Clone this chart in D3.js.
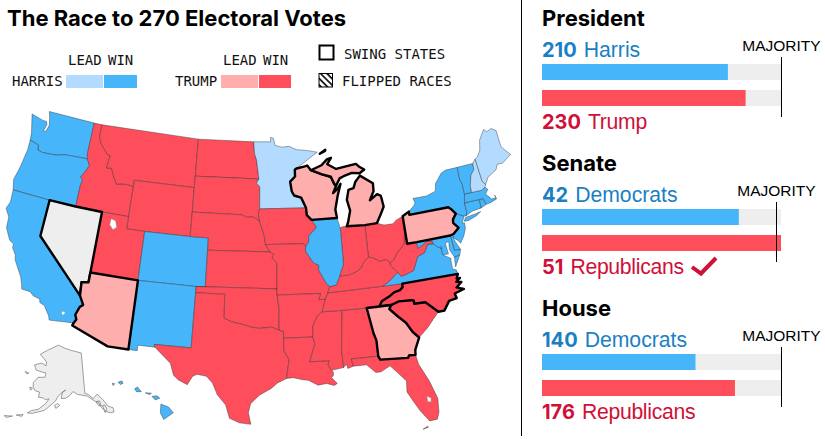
<!DOCTYPE html>
<html>
<head>
<meta charset="utf-8">
<style>
    body{ margin: 0; background: white; }
    svg{ display: block; }
    .mono{ font-family: "DejaVu Sans Mono", monospace; font-size: 14px; fill: #111; }
    .head{ font-family: Inter, sans-serif; font-weight: 700; fill: #000; }
    .label{ font-family: "Liberation Sans", sans-serif; font-size: 21.2px; }
    .num{ font-family: Inter, sans-serif; font-weight: 700; font-size: 20px; }
</style>
<script src="https://d3js.org/d3.v7.min.js"></script>
</head>
<body>
<svg id="chart" width="825" height="439"></svg>
<script>
var harrisWin = ["WA","OR","CA","CO","NM","IL","NY","VT","MA","CT","RI","NJ","DE","MD","DC","VA","HI"];
var harrisLead = ["MN","ME","NH"];
var trumpWin = ["ID","MT","WY","UT","ND","SD","NE","KS","OK","TX","IA","MO","AR","LA","MS","AL","TN","KY","IN","OH","WV","SC","FL","NC"];
var trumpLead = ["AZ","WI","MI","PA","GA"];
var swingStates = ["NV","AZ","WI","MI","PA","NC","GA"];

var chambers = ["President","Senate","House"];
var demNames = ["Harris","Democrats","Democrats"];
var repNames = ["Trump","Republicans","Republicans"];
var demSeats = [210,42,140];
var repSeats = [230,51,176];
var majority = [270,50,218];
var trackMax = [270,51,218];

// state outlines, rings of [lon, lat]
var outlines = {
  WA:[[[-124.7,48.4],[-124.1,46.9],[-124,46.3],[-123.4,46.2],[-122.9,46.1],[-122.8,45.7],[-122.2,45.6],[-121.2,45.65],[-120.5,45.7],[-119.6,45.9],[-119,45.93],[-116.92,46],[-117.04,46.42],[-117.04,49],[-122.76,49],[-122.5,48.5],[-122.3,47.9],[-122.5,47.35],[-122.8,47.3],[-122.6,47.9],[-122.75,48.15],[-123.2,48.15]]],
  OR:[[[-124,46.3],[-123.95,45.5],[-124.1,44.6],[-124.2,43.9],[-124.5,42.85],[-124.2,42],[-120,42],[-117.03,42],[-117.03,43.8],[-116.9,44.2],[-117.2,44.45],[-116.85,44.9],[-116.5,45.5],[-116.92,46],[-119,45.93],[-119.6,45.9],[-120.5,45.7],[-121.2,45.65],[-122.2,45.6],[-122.8,45.7],[-122.9,46.1],[-123.4,46.2]]],
  CA:[[[-124.2,42],[-120,42],[-120,39],[-114.63,35],[-114.14,34.3],[-114.43,34.1],[-114.72,33.4],[-114.52,33.03],[-114.72,32.72],[-117.12,32.53],[-117.25,32.85],[-117.9,33.6],[-118.4,33.75],[-118.5,34.03],[-119.2,34.15],[-119.6,34.42],[-120.47,34.45],[-120.65,34.9],[-120.9,35.4],[-121.9,36.6],[-122,36.96],[-122.5,37.5],[-122.5,37.8],[-123,38],[-123.7,38.9],[-123.8,39.8],[-124.35,40.4],[-124.1,41]]],
  NV:[[[-120,42],[-117.03,42],[-114.04,42],[-114.04,36.2],[-114.74,36.1],[-114.63,35],[-120,39]]],
  ID:[[[-117.04,49],[-116.05,49],[-116.05,48],[-115.7,47.45],[-114.7,46.7],[-114.35,46.65],[-114.5,45.6],[-113.9,45.65],[-113.45,44.95],[-113,44.45],[-112.3,44.55],[-111.5,44.55],[-111.05,44.48],[-111.05,42],[-114.04,42],[-117.03,42],[-117.03,43.8],[-116.9,44.2],[-117.2,44.45],[-116.85,44.9],[-116.5,45.5],[-116.92,46],[-117.04,46.42]]],
  MT:[[[-116.05,49],[-104.05,49],[-104.05,45.94],[-104.05,45],[-111.05,45],[-111.05,44.48],[-111.5,44.55],[-112.3,44.55],[-113,44.45],[-113.45,44.95],[-113.9,45.65],[-114.5,45.6],[-114.35,46.65],[-114.7,46.7],[-115.7,47.45],[-116.05,48]]],
  WY:[[[-111.05,45],[-104.05,45],[-104.05,43],[-104.05,41],[-109.05,41],[-111.05,41],[-111.05,42]]],
  UT:[[[-114.04,42],[-111.05,42],[-111.05,41],[-109.05,41],[-109.05,37],[-114.04,37]]],
  CO:[[[-109.05,41],[-104.05,41],[-102.05,41],[-102.05,40],[-102.05,37],[-103,37],[-109.05,37]]],
  AZ:[[[-114.04,37],[-109.05,37],[-109.05,31.33],[-111.07,31.33],[-114.8,32.5],[-114.72,32.72],[-114.52,33.03],[-114.72,33.4],[-114.43,34.1],[-114.14,34.3],[-114.63,35],[-114.74,36.1],[-114.04,36.2]]],
  NM:[[[-109.05,37],[-103,37],[-103,36.5],[-103.04,32],[-106.62,32],[-106.53,31.78],[-108.2,31.78],[-108.2,31.33],[-109.05,31.33]]],
  ND:[[[-104.05,49],[-97.23,49],[-97.1,48],[-96.85,47.5],[-96.56,45.94],[-104.05,45.94]]],
  SD:[[[-104.05,45.94],[-96.56,45.94],[-96.85,45.6],[-96.45,45.3],[-96.45,43.5],[-96.6,43.1],[-96.45,42.5],[-97.2,42.85],[-97.9,42.8],[-98.5,43],[-104.05,43]]],
  NE:[[[-104.05,43],[-98.5,43],[-97.9,42.8],[-97.2,42.85],[-96.45,42.5],[-96.1,41.7],[-95.9,41.2],[-95.8,40.6],[-95.3,40],[-102.05,40],[-102.05,41],[-104.05,41]]],
  KS:[[[-102.05,40],[-95.3,40],[-94.9,39.8],[-95.1,39.5],[-94.6,39.1],[-94.62,37],[-103,37],[-102.05,37]]],
  OK:[[[-103,37],[-94.62,37],[-94.62,36.5],[-94.43,35.4],[-94.48,33.64],[-95.2,33.9],[-96.5,33.8],[-97.2,33.9],[-98.1,34.1],[-99.2,34.3],[-100,34.56],[-100,36.5],[-103,36.5]]],
  TX:[[[-106.62,32],[-103.04,32],[-103,36.5],[-100,36.5],[-100,34.56],[-99.2,34.3],[-98.1,34.1],[-97.2,33.9],[-96.5,33.8],[-95.2,33.9],[-94.48,33.64],[-94.04,33.55],[-94.04,33],[-94.04,32],[-93.55,31.2],[-93.7,30.5],[-93.84,29.7],[-94.7,29.35],[-95.3,28.9],[-96.4,28.35],[-97.2,27.65],[-97.4,26.9],[-97.15,25.95],[-98.2,26.05],[-99.1,26.4],[-99.5,27.5],[-100.3,28.3],[-100.8,29.25],[-101.4,29.77],[-102.3,29.88],[-102.7,29.7],[-103.15,28.98],[-104,29.3],[-104.5,29.65],[-104.9,30.6],[-106,31.4],[-106.53,31.78]]],
  MN:[[[-97.23,49],[-95.15,49],[-95.15,49.38],[-94.8,49.3],[-94.6,48.7],[-93.8,48.55],[-92.9,48.6],[-92,48.3],[-90.8,48.2],[-89.5,48],[-92.1,46.75],[-92.3,46.65],[-92.3,46.1],[-92.9,45.7],[-92.75,44.9],[-92.5,44.55],[-91.7,44.35],[-91.2,43.5],[-96.45,43.5],[-96.45,45.3],[-96.85,45.6],[-96.56,45.94],[-96.85,47.5],[-97.1,48]]],
  IA:[[[-96.45,43.5],[-91.2,43.5],[-91.15,42.9],[-90.65,42.5],[-90.15,41.9],[-90.3,41.75],[-91.05,41.2],[-91.1,40.7],[-91.42,40.38],[-91.7,40.6],[-95.8,40.6],[-95.9,41.2],[-96.1,41.7],[-96.45,42.5],[-96.6,43.1]]],
  MO:[[[-95.8,40.6],[-91.7,40.6],[-91.42,40.38],[-91.5,40],[-90.7,39],[-90.15,38.8],[-90.2,38.4],[-89.5,37.3],[-89.15,37],[-89.4,36.5],[-89.7,36],[-90.37,36],[-90.15,36.5],[-94.62,36.5],[-94.62,37],[-94.6,39.1],[-95.1,39.5],[-94.9,39.8],[-95.3,40]]],
  AR:[[[-94.62,36.5],[-90.15,36.5],[-90.37,36],[-89.7,36],[-90.1,35],[-90.6,34.7],[-91.1,33.9],[-91.17,33],[-94.04,33],[-94.04,33.55],[-94.48,33.64],[-94.43,35.4]]],
  LA:[[[-94.04,33],[-91.17,33],[-91,32.4],[-91.6,31],[-89.73,31],[-89.85,30.65],[-89.55,30.2],[-89.4,30.05],[-89.4,29.8],[-89.6,29.6],[-89.1,29.1],[-89.4,28.95],[-90.1,29.15],[-90.9,29.05],[-91.8,29.5],[-92.3,29.55],[-93.2,29.75],[-93.84,29.7],[-93.7,30.5],[-93.55,31.2],[-94.04,32]]],
  MS:[[[-90.1,35],[-88.2,35],[-88.1,34.9],[-88.45,31.9],[-88.4,30.35],[-89.55,30.2],[-89.85,30.65],[-89.73,31],[-91.6,31],[-91,32.4],[-91.17,33],[-91.1,33.9],[-90.6,34.7]]],
  AL:[[[-88.2,35],[-85.6,35],[-85.2,32.9],[-85,32.3],[-85,31],[-87.6,31],[-87.45,30.4],[-88,30.25],[-88.1,30.6],[-88.4,30.35],[-88.45,31.9],[-88.1,34.9]]],
  TN:[[[-90.1,35],[-89.7,36],[-89.4,36.5],[-83.68,36.6],[-81.68,36.59],[-81.7,36.3],[-82,36.1],[-82.6,36],[-83.2,35.7],[-84,35.4],[-84.3,35],[-85.6,35],[-88.2,35]]],
  KY:[[[-89.4,36.5],[-83.68,36.6],[-82.9,36.95],[-81.97,37.54],[-82.6,38.15],[-82.6,38.42],[-83,38.72],[-83.7,38.65],[-84.3,38.98],[-84.82,39.1],[-85.4,38.7],[-85.75,38.27],[-86.3,38],[-87.1,37.8],[-88.05,37.8],[-88.45,37.1],[-89.15,37]]],
  VA:[[[-83.68,36.6],[-81.68,36.59],[-75.87,36.55],[-75.95,36.9],[-76.3,37],[-76.3,37.6],[-76.25,37.9],[-77,38.3],[-77.04,38.85],[-77.5,39.1],[-77.72,39.32],[-78.35,39.4],[-78.87,38.76],[-79.65,38.55],[-80.3,37.5],[-81.25,37.25],[-81.68,37.2],[-81.97,37.54],[-82.9,36.95]],[[-75.25,38.03],[-75.85,37.95],[-75.95,37.15]]],
  WV:[[[-82.6,38.42],[-82.6,38.15],[-81.97,37.54],[-81.68,37.2],[-81.25,37.25],[-80.3,37.5],[-79.65,38.55],[-78.87,38.76],[-78.35,39.4],[-77.72,39.32],[-77.83,39.6],[-78.4,39.62],[-79.48,39.2],[-79.48,39.72],[-80.52,39.72],[-80.52,40.64],[-80.65,40.55],[-80.85,39.75],[-81.75,39.1],[-82.2,38.6]]],
  OH:[[[-84.82,39.1],[-84.3,38.98],[-83.7,38.65],[-83,38.72],[-82.6,38.42],[-82.2,38.6],[-81.75,39.1],[-80.85,39.75],[-80.65,40.55],[-80.52,40.64],[-80.52,41.98],[-81.3,41.75],[-81.7,41.5],[-82.7,41.5],[-83.45,41.73],[-84.8,41.7]]],
  IN:[[[-87.53,41.7],[-87.2,41.76],[-86.8,41.76],[-84.8,41.7],[-84.82,39.1],[-85.4,38.7],[-85.75,38.27],[-86.3,38],[-87.1,37.8],[-88.05,37.8],[-87.55,38.7],[-87.53,39.35]]],
  IL:[[[-87.53,41.7],[-87.53,39.35],[-87.55,38.7],[-88.05,37.8],[-88.45,37.1],[-89.15,37],[-89.5,37.3],[-90.2,38.4],[-90.15,38.8],[-90.7,39],[-91.5,40],[-91.42,40.38],[-91.1,40.7],[-91.05,41.2],[-90.3,41.75],[-90.15,41.9],[-90.65,42.5],[-87.8,42.5],[-87.6,41.9]]],
  WI:[[[-90.65,42.5],[-91.15,42.9],[-91.2,43.5],[-91.7,44.35],[-92.5,44.55],[-92.75,44.9],[-92.9,45.7],[-92.3,46.1],[-92.3,46.65],[-92.1,46.75],[-91.2,46.87],[-90.8,46.95],[-90.4,46.55],[-89.1,46.15],[-88.1,45.9],[-87.8,45.35],[-87.6,45.1],[-88,44.55],[-87.4,44.9],[-87.05,45.25],[-87.5,44.3],[-87.9,43.2],[-87.8,42.5]]],
  MI:[[[-86.8,41.76],[-84.8,41.7],[-83.45,41.73],[-83.15,42.1],[-82.9,42.4],[-82.45,43],[-82.6,43.9],[-83,44.07],[-83.9,43.65],[-83.35,44.35],[-83.3,45],[-84.7,45.75],[-85.3,45.3],[-85.6,44.8],[-86.2,44.7],[-86.5,43.9],[-86.25,43],[-86.6,42.1]],[[-90.4,46.55],[-89.1,46.9],[-88.4,47.35],[-87.9,47.45],[-88.4,46.95],[-87.4,46.5],[-86.1,46.65],[-85,46.75],[-84.6,46.45],[-84.1,46.2],[-84.7,45.95],[-85.6,46.05],[-86.6,45.85],[-87.1,45.7],[-87.6,45.1],[-87.8,45.35],[-88.1,45.9],[-89.1,46.15]],[[-89.2,47.85],[-88.5,48.15],[-88.55,48.05]]],
  PA:[[[-80.52,41.98],[-79.76,42.27],[-79.76,42],[-75.35,42],[-75.05,41.75],[-74.7,41.36],[-75.15,40.95],[-75.2,40.65],[-74.75,40.2],[-75.4,39.8],[-75.8,39.72],[-79.48,39.72],[-80.52,39.72],[-80.52,40.64]]],
  NY:[[[-79.76,42.27],[-79.05,42.7],[-78.9,42.9],[-79.05,43.27],[-77.5,43.25],[-76.4,43.5],[-76.2,44.1],[-75.3,44.85],[-74.7,45],[-73.35,45],[-73.4,44],[-73.25,43.6],[-73.27,42.75],[-73.5,42.05],[-73.5,41.3],[-73.65,41],[-73.9,41],[-74.7,41.36],[-75.05,41.75],[-75.35,42],[-79.76,42]],[[-74,40.6],[-73.75,40.88],[-72.6,40.97],[-72,41.05],[-72.5,40.82],[-73.5,40.58]]],
  NJ:[[[-73.9,41],[-74.7,41.36],[-75.15,40.95],[-75.2,40.65],[-74.75,40.2],[-75.4,39.8],[-75.55,39.5],[-75.1,39.2],[-74.9,38.93],[-74.4,39.45],[-74.05,40],[-74,40.45],[-74.25,40.5]]],
  DE:[[[-75.4,39.8],[-75.8,39.72],[-75.7,38.46],[-75.05,38.45],[-75.4,39.1],[-75.55,39.5]]],
  MD:[[[-79.48,39.72],[-75.8,39.72],[-75.7,38.46],[-75.05,38.45],[-75.25,38.03],[-75.85,37.95],[-76.2,38.6],[-76.1,39.3],[-76.5,39.2],[-76.4,38.3],[-77,38.3],[-77.04,38.85],[-77.5,39.1],[-77.72,39.32],[-77.83,39.6],[-78.4,39.62],[-79.48,39.2]]],
  DC:[[[-77.12,38.93],[-77.04,39],[-76.91,38.89],[-77.04,38.79]]],
  CT:[[[-73.5,42.05],[-71.8,42.02],[-71.85,41.32],[-72.9,41.25],[-73.65,41],[-73.5,41.3]]],
  RI:[[[-71.8,42.02],[-71.38,42.02],[-71.2,41.5],[-71.85,41.32]]],
  MA:[[[-73.27,42.75],[-72.46,42.73],[-71.3,42.7],[-70.85,42.87],[-70.6,42.65],[-71,42.3],[-70.6,41.95],[-70.5,41.8],[-70,41.8],[-70.05,42.05],[-69.95,41.7],[-70.65,41.55],[-71.2,41.5],[-71.38,42.02],[-71.8,42.02],[-73.5,42.05]]],
  VT:[[[-73.35,45],[-71.5,45],[-71.55,44.5],[-72.05,44.1],[-72.4,43.3],[-72.46,42.73],[-73.27,42.75],[-73.25,43.6],[-73.4,44]]],
  NH:[[[-71.5,45],[-71.1,45.3],[-70.98,43.4],[-70.7,43.07],[-70.85,42.87],[-71.3,42.7],[-72.46,42.73],[-72.4,43.3],[-72.05,44.1],[-71.55,44.5]]],
  ME:[[[-71.1,45.3],[-70.8,45.4],[-70.3,45.9],[-70,46.7],[-69.2,47.45],[-68.9,47.2],[-68.3,47.35],[-67.8,47.07],[-67.8,45.7],[-67.45,45.3],[-67,44.85],[-68.2,44.35],[-68.8,44.4],[-69.1,44],[-70.2,43.6],[-70.7,43.07],[-70.98,43.4]]],
  NC:[[[-84.3,35],[-84,35.4],[-83.2,35.7],[-82.6,36],[-82,36.1],[-81.7,36.3],[-81.68,36.59],[-75.87,36.55],[-76.1,36.2],[-75.75,36.2],[-76.2,35.95],[-75.7,35.85],[-76.3,35.5],[-75.6,35.25],[-76.6,35.05],[-76.5,34.65],[-77.3,34.55],[-77.95,33.85],[-78.55,33.85],[-79.67,34.8],[-80.8,34.82],[-80.8,35.1],[-81.05,35.15],[-82.3,35.2],[-83.1,35]]],
  SC:[[[-83.1,35],[-82.3,35.2],[-81.05,35.15],[-80.8,35.1],[-80.8,34.82],[-79.67,34.8],[-78.55,33.85],[-79.1,33.4],[-79.9,32.7],[-80.85,32.05],[-81.4,32.6],[-81.9,33.4],[-82.6,34],[-83.35,34.7]]],
  GA:[[[-85.6,35],[-84.3,35],[-83.1,35],[-83.35,34.7],[-82.6,34],[-81.9,33.4],[-81.4,32.6],[-80.85,32.05],[-81.4,31.1],[-81.45,30.7],[-82.05,30.75],[-82.2,30.55],[-84.85,30.7],[-85,31],[-85,32.3],[-85.2,32.9]]],
  FL:[[[-87.6,31],[-85,31],[-84.85,30.7],[-82.2,30.55],[-82.05,30.75],[-81.45,30.7],[-81.3,29.9],[-80.55,28.4],[-80.05,26.9],[-80.15,25.75],[-80.4,25.2],[-81.1,25.15],[-81.8,26.1],[-82.2,26.8],[-82.75,27.8],[-82.65,28.7],[-83.4,29.5],[-84,30.1],[-84.9,29.7],[-85.4,29.7],[-86.2,30.4],[-87.45,30.4]],[[-81.8,24.55],[-81.3,24.65],[-81.35,24.75]]]
};
var hawaii = [[[-155.9,20.25],[-155.2,19.98],[-154.8,19.5],[-155.65,18.95],[-155.95,19.5]],[[-156.7,20.9],[-156.25,20.95],[-156,20.75],[-156.4,20.6]],[[-157.3,21.2],[-156.75,21.17],[-156.9,21.05]],[[-158.25,21.55],[-158,21.7],[-157.65,21.3],[-158.1,21.3]],[[-159.75,22.1],[-159.4,22.2],[-159.3,22],[-159.55,21.9]],[[-160.25,22],[-160.05,21.95],[-160.2,21.8]]];
var alaska = [[[-141,69.65],[-141,60.3],[-139.5,60],[-137.5,58.9],[-135.5,59.8],[-133.5,58.4],[-131.8,56.6],[-130,56],[-130,55],[-131.5,55],[-133,55.5],[-134.5,56.5],[-135.7,58],[-137,58.3],[-139.8,59.6],[-142.5,60],[-144.5,60.2],[-146.5,60.9],[-148,60],[-150,59.3],[-151.9,59.2],[-151.5,60.7],[-150,61.2],[-152.5,60.2],[-153.5,59.5],[-154.2,58.6],[-156.5,57.2],[-158.5,56],[-160.5,55.5],[-163,54.8],[-164.9,54.6],[-163.5,55.4],[-161,56],[-158.5,57.5],[-157.2,58.8],[-158.8,58.5],[-160,58.8],[-162,58.7],[-162,59.9],[-164.2,60],[-165.4,60.6],[-166,61.7],[-165,62.6],[-164.5,63.1],[-161,63.5],[-161,64.5],[-163,64.5],[-166.5,64.6],[-168.1,65.6],[-164.5,66.5],[-161.8,66.1],[-162,67],[-164,67.6],[-166.8,68.35],[-163,69.7],[-160,70.5],[-156.5,71.35],[-152,70.8],[-148,70.4],[-144,70]],[[-154.5,57.5],[-153.3,58],[-152.2,57.6],[-153.8,56.85]],[[-167,60.4],[-165.7,60.4],[-166.2,59.8]],[[-171.7,63.5],[-169.6,63.4],[-170.5,63.1]],[[-168.8,53.4],[-166.3,54],[-166.6,53.5]],[[-173,52.3],[-170,52.9],[-172,52.1]],[[-136.5,58.1],[-135,58.2],[-134.6,57],[-135.6,57.1]],[[-134,57],[-133,57],[-132.6,55.9],[-133.6,55.3]]];
var lakes = [[[-112.9,41.6],[-112.4,41.5],[-112.15,41],[-112.5,40.75],[-112.95,41.1]],[[-81,27.2],[-80.65,27],[-80.7,26.7],[-81,26.75]],[[-116,33.5],[-115.7,33.4],[-115.9,33.15],[-116.1,33.3]]];

var colours = {win:"#47b5fa", lead:"#b3daff", rwin:"#ff4e5b", rlead:"#ffaeae", none:"#eeeeee"};
var demText = "#1a7fc4", repText = "#cf1038";

var getFill = function(st)
{
    if(harrisWin.includes(st)){ return colours.win; }
    if(harrisLead.includes(st)){ return colours.lead; }
    if(trumpWin.includes(st)){ return colours.rwin; }
    if(trumpLead.includes(st)){ return colours.rlead; }
    return colours.none;
}

var mainland = d3.geoConicEqualArea().parallels([29.5,45.5]).rotate([96,0]).center([-0.6,38.7]).scale(700).translate([258,268]);
var akProj = d3.geoConicEqualArea().parallels([55,65]).rotate([147,0]).center([0,58.5]).scale(250).translate([72,402]);
var hiProj = d3.geoConicEqualArea().parallels([8,18]).rotate([157,0]).center([-3,19.9]).scale(680).translate([115,408]);

var svg = d3.select("#chart");
var ringPath = function(proj)
{
    var line = d3.line().x(function(d){ return proj(d)[0]; }).y(function(d){ return proj(d)[1]; }).curve(d3.curveLinearClosed);
    return function(rings){ return rings.map(line).join(""); };
}
var drawLower = ringPath(mainland);
var border = "rgba(45,45,50,0.6)";

var codes = Object.keys(outlines);
var plain = codes.filter(function(c){ return !swingStates.includes(c); });

svg.append("g").selectAll("path").data(plain).enter().append("path")
    .attr("d", function(c){ return drawLower(outlines[c]); })
    .attr("fill", getFill).attr("stroke", border).attr("stroke-width", 0.7).attr("stroke-linejoin", "round");
svg.append("g").selectAll("path").data(lakes).enter().append("path")
    .attr("d", function(r){ return drawLower([r]); })
    .attr("fill", "white").attr("stroke", "#888").attr("stroke-width", 0.4);
svg.append("path").attr("d", ringPath(akProj)(alaska))
    .attr("fill", colours.none).attr("stroke", "#777").attr("stroke-width", 0.7);
svg.append("path").attr("d", ringPath(hiProj)(hawaii))
    .attr("fill", colours.win).attr("stroke", "#445").attr("stroke-width", 0.5);
svg.append("g").selectAll("path").data(swingStates).enter().append("path")
    .attr("d", function(c){ return drawLower(outlines[c]); })
    .attr("fill", getFill).attr("stroke", "#000").attr("stroke-width", 2.4).attr("stroke-linejoin", "round");

// title and legend
svg.append("text").attr("class", "head").attr("x", 7).attr("y", 26).attr("font-size", 22).text("The Race to 270 Electoral Votes");
var addMono = function(x, y, s){ svg.append("text").attr("class", "mono").attr("x", x).attr("y", y).text(s); }
addMono(68,65,"LEAD"); addMono(108,65,"WIN"); addMono(12,86,"HARRIS");
addMono(223,65,"LEAD"); addMono(263,65,"WIN"); addMono(175,86,"TRUMP");
addMono(344,59,"SWING STATES"); addMono(342,86,"FLIPPED RACES");
var swatches = [[66,37,colours.lead],[104,33,colours.win],[221,37,colours.rlead],[259,32,colours.rwin]];
svg.append("g").selectAll("rect").data(swatches).enter().append("rect")
    .attr("x", function(d){ return d[0]; }).attr("y", 75).attr("width", function(d){ return d[1]; }).attr("height", 13).attr("fill", function(d){ return d[2]; });
svg.append("rect").attr("x", 319.5).attr("y", 45.5).attr("width", 14).attr("height", 14).attr("fill", "white").attr("stroke", "#000").attr("stroke-width", 2);
var defs = svg.append("defs");
defs.append("pattern").attr("id", "hatch").attr("width", 4.5).attr("height", 4.5).attr("patternUnits", "userSpaceOnUse").attr("patternTransform", "rotate(45)")
    .append("rect").attr("width", 4.5).attr("height", 1.6).attr("fill", "#000");
svg.append("rect").attr("x", 319).attr("y", 73.5).attr("width", 13.5).attr("height", 13.5).attr("fill", "url(#hatch)").attr("stroke", "#000").attr("stroke-width", 1);

// divider
svg.append("line").attr("x1", 521.5).attr("x2", 521.5).attr("y1", 0).attr("y2", 436).attr("stroke", "#000").attr("stroke-width", 1);

// right hand panels
chambers.forEach(function(name, i)
{
    var top = i*145;
    var x = d3.scaleLinear().domain([0, trackMax[i]]).range([542, 781]);
    var g = svg.append("g").attr("transform", "translate(0," + top + ")");
    g.append("text").attr("class", "head").attr("x", 542).attr("y", 26).attr("font-size", 22).text(name);
    var rows = [{y:64, v:demSeats[i], c:colours.win}, {y:90, v:repSeats[i], c:colours.rwin}];
    g.selectAll(".track").data(rows).enter().append("rect").attr("class", "track")
        .attr("x", x(0)).attr("y", function(d){ return d.y; }).attr("width", x(trackMax[i])-x(0)).attr("height", 16).attr("fill", colours.none);
    g.selectAll(".bar").data(rows).enter().append("rect").attr("class", "bar")
        .attr("x", x(0)).attr("y", function(d){ return d.y; }).attr("width", function(d){ return x(d.v)-x(0); }).attr("height", 16).attr("fill", function(d){ return d.c; });
    var mx = Math.round(x(majority[i]))+0.5;
    g.append("line").attr("x1", mx).attr("x2", mx).attr("y1", 57).attr("y2", 117).attr("stroke", "#000").attr("stroke-width", 1);
    g.append("text").attr("x", mx).attr("y", 51).attr("text-anchor", "middle").attr("font-family", "Liberation Sans").attr("font-size", 15.5).attr("fill", "#000").text("MAJORITY");
    var dem = g.append("text").attr("x", 542).attr("y", 57).attr("fill", demText);
    dem.append("tspan").attr("class", "num").text(demSeats[i]);
    dem.append("tspan").attr("class", "label").attr("dx", 7).text(demNames[i]);
    var rep = g.append("text").attr("x", 542).attr("y", 129).attr("fill", repText);
    rep.append("tspan").attr("class", "num").text(repSeats[i]);
    rep.append("tspan").attr("class", "label").attr("dx", 7).attr("letter-spacing", -0.3).text(repNames[i]);
    if(repSeats[i] >= majority[i] && i == 1)
    {
        g.append("path").attr("d", "M692 122 L701 128.5 L716 113").attr("fill", "none").attr("stroke", repText).attr("stroke-width", 4);
    }
});
</script>
</body>
</html>
